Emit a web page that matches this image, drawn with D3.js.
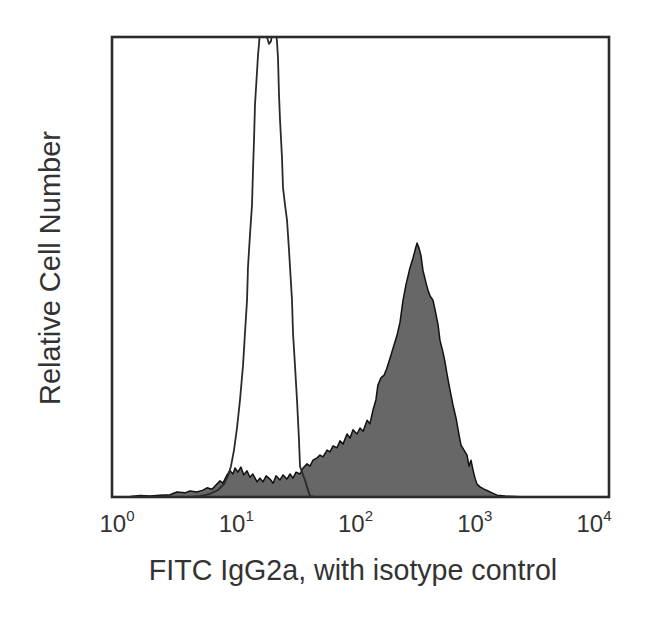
<!DOCTYPE html>
<html>
<head>
<meta charset="utf-8">
<script src="https://cdn.jsdelivr.net/npm/d3@7"></script>
<style>
  html, body { margin: 0; padding: 0; background: #fff; }
  svg { display: block; }
</style>
</head>
<body>
<svg id="chart" width="650" height="622"></svg>
<script>
// ---- data (fluorescence intensity, relative count in % of y range) ----
const tickValues = [1, 10, 100, 1000, 10000];
const tickExponents = ["0", "1", "2", "3", "4"];
const xTitle = "FITC IgG2a, with isotype control";
const yTitle = "Relative Cell Number";

const stainedIntensity = [1.40,1.68,2.02,2.43,2.93,3.33,3.87,4.24,4.83,5.40,5.82,6.38,6.75,7.40,7.82,8.43,8.91,9.42,9.77,10.3,10.9,11.5,12.2,12.9,13.6,14.7,15.5,16.4,17.4,18.7,19.8,20.9,22.5,23.8,25.6,27.1,28.6,30.3,32.6,34.5,37.1,39.2,41.5,44.7,47.2,49.9,53.8,56.8,60.1,64.7,68.4,72.3,77.9,82.3,87.0,93.7,99.1,105,113,119,126,133,138,146,155,163,173,183,197,208,220,232,250,265,275,285,296,307,318,337,349,363,383,398,421,436,461,479,497,525,555,587,621,644,681,720,747,775,804,835,866,916,986,1062,1144,1255,1456,1751,2108,2784];
const stainedCount = [0.1,0.3,0.2,0.4,0.5,1.1,0.9,1.3,1.1,1.5,2.0,1.7,2.4,3.5,3.0,4.8,5.7,5.0,6.3,5.4,6.5,4.8,5.7,4.3,5.0,3.3,4.1,3.3,4.6,3.9,3.0,4.6,3.7,4.8,3.9,5.0,4.1,5.4,5.0,6.3,7.2,6.7,8.0,8.5,9.1,8.7,10.2,9.8,11.1,10.7,12.2,11.5,13.7,12.8,14.6,13.7,15.0,14.3,16.7,15.9,18.9,21.1,24.3,25.9,26.5,28.0,30.2,32.4,35.2,38.0,42.8,46.1,49.8,52.0,53.7,55.2,54.1,52.4,49.3,46.5,45.0,43.7,42.8,40.7,37.4,34.1,31.5,29.3,26.7,23.3,20.0,17.2,13.5,11.3,10.2,9.1,6.7,8.0,5.9,4.1,2.8,2.2,1.7,1.3,0.9,0.4,0.2,0.1,0,0];

const isotypeIntensity = [4.24,5.11,6.15,7.13,7.97,8.58,9.07,9.59,10.14,10.72,11.33,11.76,12.21,12.43,12.90,13.39,13.64,13.90,14.15,14.42,14.69,14.97,15.25,15.53,16.42,17.35,18.35,19.04,19.76,20.51,21.28,21.68,22.09,22.50,23.35,23.79,24.69,25.62,26.58,27.08,28.10,28.62,29.71,30.83,31.99,32.59,33.82,35.75,37.10,39.23,43.03,48.99];
const isotypeCount = [0,0.2,0.7,1.5,2.8,4.6,6.7,10.2,15.0,21.1,28.5,35.7,42.8,50.0,57.0,63.5,71.1,77.6,85.2,88.9,92.4,96.1,98.5,101.5,103.7,100.7,98.5,99.1,102.0,103.7,98.9,95.4,87.4,82.0,73.7,67.2,63.5,60.2,53.7,50.0,42.8,35.7,28.5,21.1,12.4,6.7,5.4,3.7,2.2,0.2,0,0];

// ---- layout ----
const svg = d3.select("#chart");
const plotL = 112, plotR = 609, plotT = 37, plotB = 497;

const x = d3.scaleLog().domain([1, 10000]).range([plotL, plotR]);
const y = d3.scaleLinear().domain([0, 100]).range([plotB, plotT]);
// label positions as drawn in the reference (slightly inset from the frame)
const xLabel = d3.scaleLog().domain([1, 10000]).range([117, 594]);

svg.append("defs").append("clipPath").attr("id", "plotClip")
  .append("rect").attr("x", plotL).attr("y", plotT)
  .attr("width", plotR - plotL).attr("height", plotB - plotT);

const stained = stainedIntensity.map((v, i) => [v, stainedCount[i]]);
const isotype = isotypeIntensity.map((v, i) => [v, isotypeCount[i]]);

const g = svg.append("g").attr("clip-path", "url(#plotClip)");

const area = d3.area().x(d => x(d[0])).y0(y(0)).y1(d => y(d[1]));
const line = d3.line().x(d => x(d[0])).y(d => y(d[1]));

g.append("path").datum(stained)
  .attr("d", area)
  .attr("fill", "#676767")
  .attr("stroke", "none");
g.append("path").datum(stained)
  .attr("d", line)
  .attr("fill", "none")
  .attr("stroke", "#111")
  .attr("stroke-width", 1.5)
  .attr("stroke-linejoin", "round");

g.append("path").datum(isotype)
  .attr("d", line)
  .attr("fill", "none")
  .attr("stroke", "#2a2a2a")
  .attr("stroke-width", 1.8)
  .attr("stroke-linejoin", "round");

// frame
svg.append("rect")
  .attr("x", plotL).attr("y", plotT)
  .attr("width", plotR - plotL).attr("height", plotB - plotT)
  .attr("fill", "none").attr("stroke", "#2b2b2b").attr("stroke-width", 2.6);

// x tick labels (10^n)
const lab = svg.append("g").attr("font-family", "'Liberation Sans', Arial, sans-serif").attr("fill", "#333");
tickValues.forEach((v, i) => {
  const t = lab.append("text")
    .attr("x", xLabel(v)).attr("y", 532)
    .attr("text-anchor", "middle")
    .attr("font-size", 24);
  t.append("tspan").text("10");
  t.append("tspan").attr("font-size", 15).attr("dy", -11).text(tickExponents[i]);
});

// axis titles
svg.append("text")
  .attr("x", 353).attr("y", 580)
  .attr("text-anchor", "middle")
  .attr("font-family", "'Liberation Sans', Arial, sans-serif")
  .attr("font-size", 28.6)
  .attr("fill", "#333")
  .text(xTitle);

svg.append("text")
  .attr("transform", "translate(60,268) rotate(-90)")
  .attr("text-anchor", "middle")
  .attr("font-family", "'Liberation Sans', Arial, sans-serif")
  .attr("font-size", 29)
  .attr("fill", "#333")
  .text(yTitle);
</script>
</body>
</html>
